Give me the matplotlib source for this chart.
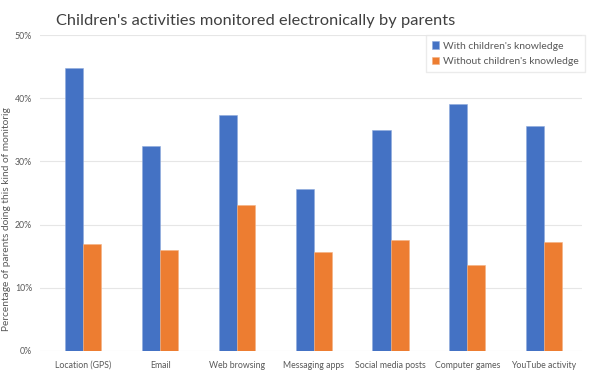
import matplotlib
matplotlib.use('Agg')
import matplotlib.pyplot as plt
import numpy as np

plt.rcParams['font.family'] = ['Lato', 'DejaVu Sans']

categories = ['Location (GPS)', 'Email', 'Web browsing', 'Messaging apps',
              'Social media posts', 'Computer games', 'YouTube activity']
with_knowledge = [44.8, 32.4, 37.4, 25.6, 35.0, 39.1, 35.6]
without_knowledge = [16.9, 16.0, 23.1, 15.7, 17.6, 13.6, 17.2]
yticks = [0, 10, 20, 30, 40, 50]

blue = '#4472C4'
orange = '#ED7D31'
grey = '#595959'

fig = plt.figure(figsize=(6.02, 3.86), dpi=100)
ax = fig.add_axes([0.0658, 0.0907, 0.9018, 0.8186])

x = np.arange(len(categories))
w = 0.235
ax.bar(x - w / 2, with_knowledge, w, color=blue, label="With children's knowledge",
       edgecolor='#8faadc', linewidth=0.4, zorder=3)
ax.bar(x + w / 2, without_knowledge, w, color=orange, label="Without children's knowledge",
       edgecolor='#f4b183', linewidth=0.4, zorder=3)

ax.set_xlim(-0.57, 6.5)
ax.set_ylim(0, 50)
ax.set_yticks(yticks)
ax.set_yticklabels(['%d%%' % t for t in yticks])
ax.set_xticks(x)
ax.set_xticklabels(categories)
ax.tick_params(axis='both', length=0, labelsize=6.3, labelcolor=grey)
ax.tick_params(axis='x', pad=7)
ax.tick_params(axis='y', pad=5.5)
ax.grid(axis='y', color='#e6e6e6', linewidth=0.8, zorder=0)
for s in ax.spines.values():
    s.set_visible(False)

ax.set_ylabel('Percentage of parents doing this kind of monitorig', fontsize=7.3,
              color=grey)
ax.yaxis.set_label_coords(-0.052, 0.418)

fig.text(0.425, 0.945, "Children's activities monitored electronically by parents",
         fontsize=11.8, color='#404040', ha='center', va='center')

leg = ax.legend(loc='upper right', bbox_to_anchor=(1.005, 1.0), fontsize=7.5,
                frameon=True, fancybox=False, edgecolor='#e6e6e6',
                handlelength=0.7, handleheight=0.7, handletextpad=0.4,
                labelspacing=0.6, borderpad=0.6, borderaxespad=0)
for t in leg.get_texts():
    t.set_color(grey)

fig.savefig('out.png', dpi=100, facecolor='white')
